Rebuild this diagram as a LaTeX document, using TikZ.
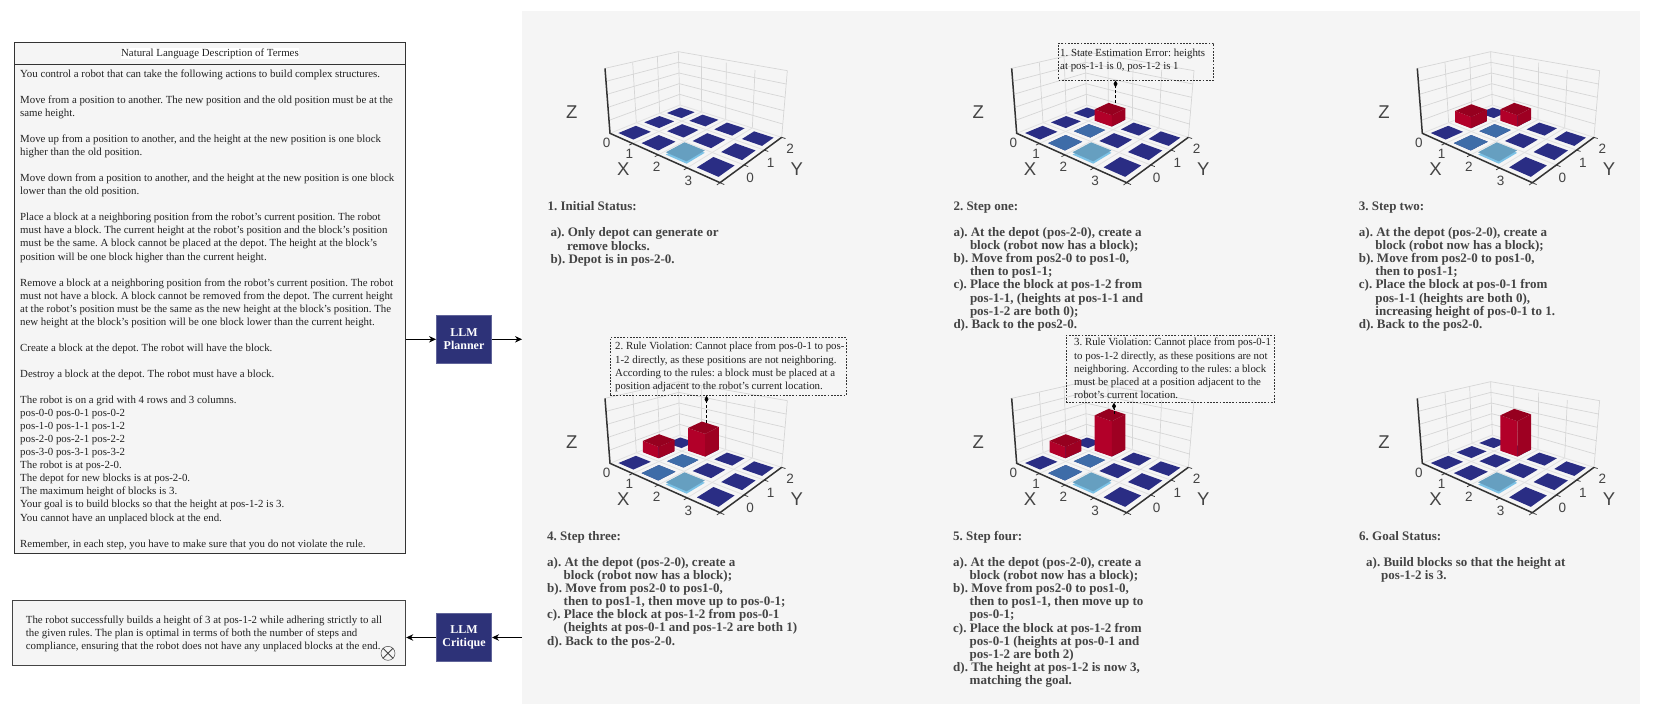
\documentclass[tikz,border=0pt]{standalone}
\usepackage{fontspec}
\usepackage{xcolor}
\usetikzlibrary{arrows.meta,positioning,calc}
\setmainfont{Liberation Serif}
\newfontfamily\plotfont{Liberation Sans}
\definecolor{PanelGray}{HTML}{F5F5F5}
\definecolor{NavyBox}{HTML}{2D3278}
\definecolor{TileDark}{HTML}{2A2D84}
\definecolor{TileMid}{HTML}{3E6CA8}
\definecolor{TileLight}{HTML}{669FC0}
\definecolor{TileEdge}{HTML}{7CC2E6}
\definecolor{BlockTop}{HTML}{96001F}
\definecolor{BlockLeft}{HTML}{B20029}
\definecolor{BlockRight}{HTML}{9E0022}
\definecolor{AxisDark}{HTML}{333333}
\definecolor{WallLine}{HTML}{D6D6D6}
\definecolor{FloorLine}{HTML}{E2E2E2}
\definecolor{Ink}{HTML}{222222}
\definecolor{StepInk}{HTML}{444444}
\newcommand{\setpt}[4]{\coordinate (#1) at ({floorx(#2,#3)},{floory(#2,#3)-#4});}
\newcommand{\tile}[3]{%
  \setpt{t1}{#1+0.17}{#2+0.17}{0}\setpt{t2}{#1+0.17}{#2+0.83}{0}\setpt{t3}{#1+0.83}{#2+0.83}{0}\setpt{t4}{#1+0.83}{#2+0.17}{0}
  \fill[#3] (t1) -- (t2) -- (t3) -- (t4) -- cycle;
}
\newcommand{\lighttile}[2]{%
  \setpt{t1}{#1+0.14}{#2+0.14}{0}\setpt{t2}{#1+0.14}{#2+0.86}{0}\setpt{t3}{#1+0.86}{#2+0.86}{0}\setpt{t4}{#1+0.86}{#2+0.14}{0}
  \setpt{s1}{#1+0.14}{#2+0.14}{7}\setpt{s2}{#1+0.14}{#2+0.86}{7}\setpt{s3}{#1+0.86}{#2+0.86}{7}\setpt{s4}{#1+0.86}{#2+0.14}{7}
  \fill[TileEdge] (t1) -- (t2) -- (t3) -- (t4) -- cycle;
  \fill[TileLight] (s1) -- (s2) -- (s3) -- (s4) -- cycle;
}
\newcommand{\blockbar}[3]{%
  \setpt{b1}{#1+0.13}{#2+0.15}{0}\setpt{b3}{#1+0.83}{#2+0.85}{0}\setpt{b4}{#1+0.83}{#2+0.15}{0}
  \setpt{u1}{#1+0.13}{#2+0.15}{#3}\setpt{u2}{#1+0.13}{#2+0.85}{#3}\setpt{u3}{#1+0.83}{#2+0.85}{#3}\setpt{u4}{#1+0.83}{#2+0.15}{#3}
  \fill[BlockLeft] (b1) -- (b4) -- (u4) -- (u1) -- cycle;
  \fill[BlockRight] (b4) -- (b3) -- (u3) -- (u4) -- cycle;
  \fill[BlockTop] (u1) -- (u2) -- (u3) -- (u4) -- cycle;
}
\newcommand{\chartbase}[1]{%
  \coordinate (fa) at (210,310); \coordinate (ta) at (195,115);
  \coordinate (fd) at (420,225); \coordinate (td) at (415,65);
  \coordinate (fc) at (725,322); \coordinate (tc) at (742,122);
  \foreach \fx/\fy/\tx/\ty in {289/278/278/97,359/250/352/78,485/246/484/79,557/269/559/98,637/294/645/120,420/225/415/65} {
    \draw[wall] (\fx,\fy) -- (\tx,\ty);
  }
  \draw[wall] (ta) -- (td) -- (tc) -- (fc);
  \foreach \k in {0.2,0.4,0.6,0.8} {
    \draw[wall] ($(fa)!\k!(ta)$) -- ($(fd)!\k!(td)$) -- ($(fc)!\k!(tc)$);
  }
  \foreach \k in {1,2,3} {
    \setpt{g1}{\k}{0}{0}\setpt{g2}{\k}{3}{0}
    \draw[floorline] (g1) -- (g2);
  }
  \foreach \k in {1,2} {
    \setpt{g1}{0}{\k}{0}\setpt{g2}{4}{\k}{0}
    \draw[floorline] (g1) -- (g2);
  }
  \draw[floorline] (fa) -- (fd) -- (fc);
  \foreach \i in {0,1,2,3} {
    \foreach \j in {0,1,2} {
      \tile{\i}{\j}{TileDark}
    }
  }
  \lighttile{2}{0}
  \setpt{fb}{4}{0}{0}
  \draw[axisline] (ta) -- (fa) -- (fb) -- (fc);
  \foreach \k in {1,2,3,4} {
    \setpt{g1}{\k}{0}{0}\setpt{g2}{\k}{-0.12}{0}
    \draw[axisline,line width=0.7pt] (g1) -- (g2);
  }
  \foreach \k in {1,2,3} {
    \setpt{g1}{4}{\k}{0}\setpt{g2}{4.12}{\k}{0}
    \draw[axisline,line width=0.7pt] (g1) -- (g2);
  }
  \setpt{g1}{4}{0}{0}\setpt{g2}{4.12}{0}{0}
  \draw[axisline,line width=0.7pt] (g1) -- (g2);
  \foreach \lab/\px/\py in {0/200/340,1/268/372,2/350/410,3/445/454} {
    \node[tick] (#1x\lab) at (\px,\py) {\lab};
  }
  \foreach \lab/\px/\py in {0/630/445,1/692/398,2/750/355} {
    \node[tick] (#1y\lab) at (\px,\py) {\lab};
  }
  \node[axisname] (#1X) at (250,418) {X};
  \node[axisname] (#1Y) at (770,418) {Y};
  \node[axisname] (#1Z) at (95,245) {Z};
}
\begin{document}
\frenchspacing
\begin{tikzpicture}[
  x=1pt,y=-1pt,
  declare function={
    floorw(\u,\v)=1-0.2210*\u/4+0.2160*\v/3;
    floorx(\u,\v)=(210.7*\u/4+300.7*\v/3+210)/floorw(\u,\v);
    floory(\u,\v)=(46.8*\u/4-36.4*\v/3+310)/floorw(\u,\v);
  },
  textbox/.style={draw=AxisDark,fill=PanelGray,line width=0.9pt,anchor=north west,inner sep=0pt},
  llm/.style={draw=NavyBox!75!white,fill=NavyBox,line width=0.6pt,minimum width=55.4pt,minimum height=48pt,text=white,align=center,inner sep=0pt,font=\fontsize{12}{13.5}\selectfont\bfseries},
  flow/.style={draw=black,line width=0.8pt,-{Stealth[length=7pt,width=6.5pt]}},
  body/.style={anchor=north west,inner sep=0pt,align=left,text=Ink,font=\fontsize{10.85}{13.05}\selectfont},
  steptext/.style={anchor=north west,inner sep=0pt,align=left,text=StepInk,font=\fontsize{13}{13.1}\selectfont\bfseries},
  callout/.style={draw=AxisDark,line width=0.7pt,dash pattern=on 1.8pt off 1.4pt,anchor=north west,inner sep=0pt},
  calltext/.style={anchor=north west,inner sep=0pt,align=left,text=Ink,font=\fontsize{10.85}{13.2}\selectfont},
  pointer/.style={draw=black,line width=0.8pt,dash pattern=on 3pt off 2pt,-{Diamond[length=7pt,width=4pt,sep=0pt]}},
  wall/.style={draw=WallLine,line width=0.7pt},
  floorline/.style={draw=FloorLine,line width=0.8pt},
  axisline/.style={draw=AxisDark,line width=1.5pt},
  tick/.style={inner sep=0pt,text=StepInk,font=\plotfont\fontsize{13.5}{13.5}\selectfont},
  axisname/.style={inner sep=0pt,text=StepInk,font=\plotfont\fontsize{18.5}{18.5}\selectfont},
  chart/.style={x=0.33333pt,y=-0.33333pt}
]
\useasboundingbox (0,0) rectangle (1661,723);
\node[fill=PanelGray,anchor=north west,inner sep=0pt,minimum width=1117.5pt,minimum height=693.4pt] (panel) at (522,10.6) {};
\node[textbox,minimum width=391pt,minimum height=510.4pt] (descbox) at (14,42.3) {};
\node[textbox,minimum width=391pt,minimum height=21.7pt] (desctitle) at (14,42.3) {};
\node[fill=white,inner sep=0.4pt,text=Ink,font=\fontsize{10.85}{13}\selectfont] (desclabel) at (desctitle.center) {Natural Language Description of Termes};
\node[body] (desctext) at (20,69.5) {You control a robot that can take the following actions to build complex structures.\\
\mbox{}\\
Move from a position to another. The new position and the old position must be at the\\
same height.\\
\mbox{}\\
Move up from a position to another, and the height at the new position is one block\\
higher than the old position.\\
\mbox{}\\
Move down from a position to another, and the height at the new position is one block\\
lower than the old position.\\
\mbox{}\\
Place a block at a neighboring position from the robot's current position. The robot\\
must have a block. The current height at the robot's position and the block's position\\
must be the same. A block cannot be placed at the depot. The height at the block's\\
position will be one block higher than the current height.\\
\mbox{}\\
Remove a block at a neighboring position from the robot's current position. The robot\\
must not have a block. A block cannot be removed from the depot. The current height\\
at the robot's position must be the same as the new height at the block's position. The\\
new height at the block's position will be one block lower than the current height.\\
\mbox{}\\
Create a block at the depot. The robot will have the block.\\
\mbox{}\\
Destroy a block at the depot. The robot must have a block.\\
\mbox{}\\
The robot is on a grid with 4 rows and 3 columns.\\
pos-0-0 pos-0-1 pos-0-2\\
pos-1-0 pos-1-1 pos-1-2\\
pos-2-0 pos-2-1 pos-2-2\\
pos-3-0 pos-3-1 pos-3-2\\
The robot is at pos-2-0.\\
The depot for new blocks is at pos-2-0.\\
The maximum height of blocks is 3.\\
Your goal is to build blocks so that the height at pos-1-2 is 3.\\
You cannot have an unplaced block at the end.\\
\mbox{}\\
Remember, in each step, you have to make sure that you do not violate the rule.};
\node[textbox,draw=StepInk,minimum width=393pt,minimum height=65.3pt] (critbox) at (12.3,600) {};
\node[body] (crittext) at (25.7,615.5) {The robot successfully builds a height of 3 at pos-1-2 while adhering strictly to all\\
the given rules. The plan is optimal in terms of both the number of steps and\\
compliance, ensuring that the robot does not have any unplaced blocks at the end.};
\node[circle,draw=StepInk,line width=0.5pt,minimum size=14pt,inner sep=0pt] (icon) at (388,653.3) {};
\draw[StepInk,line width=0.9pt] (icon.45) -- (icon.225);
\draw[StepInk,line width=0.9pt] (icon.135) -- (icon.315);
\node[llm] (planner) at (464,339.3) {LLM\\Planner};
\node[llm] (critique) at (464,637.5) {LLM\\Critique};
\draw[flow] (descbox.east |- planner.west) -- (planner.west);
\draw[flow] (planner.east) -- (planner.east -| panel.west);
\draw[flow] (critique.east -| panel.west) -- (critique.east);
\draw[flow] (critique.west) -- (critique.west -| critbox.east);
\begin{scope}[shift={(540,30)},chart]
  \chartbase{a}
\end{scope}
\begin{scope}[shift={(946.67,30)},chart]
  \chartbase{b}
  \tile{1}{0}{TileMid}\tile{1}{1}{TileMid}
  \blockbar{1}{2}{34}
\end{scope}
\begin{scope}[shift={(1352.3,30)},chart]
  \chartbase{c}
  \tile{1}{0}{TileMid}\tile{1}{1}{TileMid}
  \blockbar{0}{1}{34}\blockbar{1}{2}{34}
\end{scope}
\begin{scope}[shift={(540,360)},chart]
  \chartbase{d}
  \tile{1}{0}{TileMid}\tile{1}{1}{TileMid}
  \blockbar{0}{1}{34}\blockbar{1}{2}{68}
\end{scope}
\begin{scope}[shift={(946.67,360)},chart]
  \chartbase{e}
  \tile{1}{0}{TileMid}\tile{1}{1}{TileMid}
  \blockbar{0}{1}{34}\blockbar{1}{2}{106}
\end{scope}
\begin{scope}[shift={(1352.3,360)},chart]
  \chartbase{f}
  \blockbar{1}{2}{106}
\end{scope}
\node[steptext] (stepa) at (547.3,201.5) {1. Initial Status:\\
\mbox{}\\
\hspace*{3pt}a). Only depot can generate or\\
\hspace*{19.5pt}remove blocks.\\
\hspace*{3pt}b). Depot is in pos-2-0.};
\node[steptext] (stepb) at (953.3,201.5) {2. Step one:\\
\mbox{}\\
a). At the depot (pos-2-0), create a\\
\hspace*{16.5pt}block (robot now has a block);\\
b). Move from pos2-0 to pos1-0,\\
\hspace*{16.5pt}then to pos1-1;\\
c). Place the block at pos-1-2 from\\
\hspace*{16.5pt}pos-1-1, (heights at pos-1-1 and\\
\hspace*{16.5pt}pos-1-2 are both 0);\\
d). Back to the pos2-0.};
\node[steptext] (stepc) at (1358.7,201.5) {3. Step two:\\
\mbox{}\\
a). At the depot (pos-2-0), create a\\
\hspace*{16.5pt}block (robot now has a block);\\
b). Move from pos2-0 to pos1-0,\\
\hspace*{16.5pt}then to pos1-1;\\
c). Place the block at pos-0-1 from\\
\hspace*{16.5pt}pos-1-1 (heights are both 0),\\
\hspace*{16.5pt}increasing height of pos-0-1 to 1.\\
d). Back to the pos2-0.};
\node[steptext] (stepd) at (547,531) {4. Step three:\\
\mbox{}\\
a). At the depot (pos-2-0), create a\\
\hspace*{16.5pt}block (robot now has a block);\\
b). Move from pos2-0 to pos1-0,\\
\hspace*{16.5pt}then to pos1-1, then move up to pos-0-1;\\
c). Place the block at pos-1-2 from pos-0-1\\
\hspace*{16.5pt}(heights at pos-0-1 and pos-1-2 are both 1)\\
d). Back to the pos-2-0.};
\node[steptext] (stepe) at (953,531) {5. Step four:\\
\mbox{}\\
a). At the depot (pos-2-0), create a\\
\hspace*{16.5pt}block (robot now has a block);\\
b). Move from pos2-0 to pos1-0,\\
\hspace*{16.5pt}then to pos1-1, then move up to\\
\hspace*{16.5pt}pos-0-1;\\
c). Place the block at pos-1-2 from\\
\hspace*{16.5pt}pos-0-1 (heights at pos-0-1 and\\
\hspace*{16.5pt}pos-1-2 are both 2)\\
d). The height at pos-1-2 is now 3,\\
\hspace*{16.5pt}matching the goal.};
\node[steptext] (stepf) at (1359,531) {6. Goal Status:\\
\mbox{}\\
\hspace*{7pt}a). Build blocks so that the height at\\
\hspace*{22pt}pos-1-2 is 3.};
\node[callout,minimum width=155pt,minimum height=37pt] (callone) at (1058.3,42.7) {};
\node[calltext] (calltextone) at (1060,49) {1. State Estimation Error: heights\\at pos-1-1 is 0, pos-1-2 is 1};
\node[callout,minimum width=236.3pt,minimum height=57.7pt] (calltwo) at (609.7,337.3) {};
\node[calltext] (calltexttwo) at (615,342) {2. Rule Violation: Cannot place from pos-0-1 to pos-\\1-2 directly, as these positions are not neighboring.\\According to the rules: a block must be placed at a\\position adjacent to the robot's current location.};
\node[callout,minimum width=208.6pt,minimum height=67.3pt] (callthree) at (1065.7,334.7) {};
\node[calltext] (calltextthree) at (1074,338) {3. Rule Violation: Cannot place from pos-0-1\\to pos-1-2 directly, as these positions are not\\neighboring. According to the rules: a block\\must be placed at a position adjacent to the\\robot's current location.};
\coordinate (footone) at (1115.5,103.3);
\coordinate (foottwo) at (706.5,423);
\coordinate (footthree) at (1114,414);
\draw[pointer] (footone) -- (footone |- callone.south);
\draw[pointer] (foottwo) -- (foottwo |- calltwo.south);
\draw[pointer] (footthree) -- (footthree |- callthree.south);
\end{tikzpicture}
\end{document}
